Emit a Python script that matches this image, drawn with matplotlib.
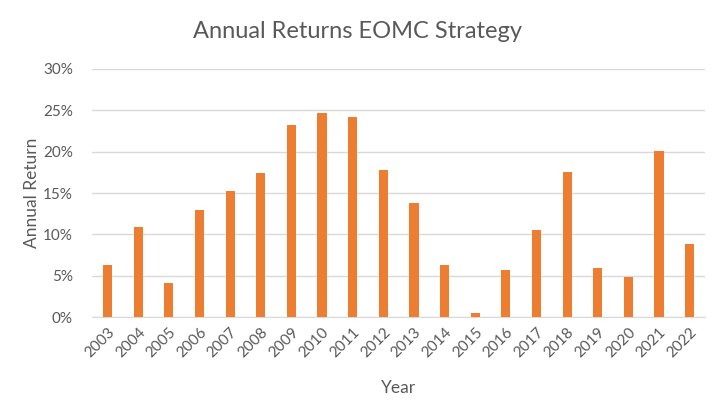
import matplotlib
matplotlib.use("Agg")
import matplotlib.pyplot as plt
from matplotlib.ticker import FuncFormatter

years = [str(y) for y in range(2003, 2023)]
returns = [6.3, 10.9, 4.1, 12.9, 15.3, 17.4, 23.2, 24.7, 24.2, 17.8,
           13.8, 6.3, 0.45, 5.7, 10.5, 17.6, 6.0, 4.8, 20.1, 8.8]
y_ticks = [0, 5, 10, 15, 20, 25, 30]

plt.rcParams["font.family"] = ["Lato", "DejaVu Sans"]
text_color = "#595959"

fig = plt.figure(figsize=(7.15, 4.13), dpi=100)
ax = fig.add_axes([0.129, 0.232, 0.857, 0.601])

x = range(len(years))
ax.bar(x, returns, width=0.3, color="#ED7D31", zorder=3)

ax.set_xlim(-0.5, len(years) - 0.5)
ax.set_ylim(0, 30)
ax.set_yticks(y_ticks)
ax.yaxis.set_major_formatter(FuncFormatter(lambda v, p: f"{v:.0f}%"))
ax.set_xticks(list(x))
ax.set_xticklabels(years, rotation=45, ha="right", rotation_mode="anchor")

ax.grid(axis="y", color="#D9D9D9", linewidth=1, zorder=0)
for s in ["top", "right", "left"]:
    ax.spines[s].set_visible(False)
ax.spines["bottom"].set_color("#D9D9D9")
ax.tick_params(axis="both", length=0, labelsize=11, colors=text_color)
ax.tick_params(axis="x", pad=6)
ax.tick_params(axis="y", pad=14)

ax.set_xlabel("Year", fontsize=12.5, color=text_color, labelpad=14)
ax.set_ylabel("Annual Return", fontsize=12.5, color=text_color, labelpad=2)
fig.suptitle("Annual Returns EOMC Strategy", fontsize=17, color=text_color, y=0.95)

fig.savefig("out.png", dpi=100)
